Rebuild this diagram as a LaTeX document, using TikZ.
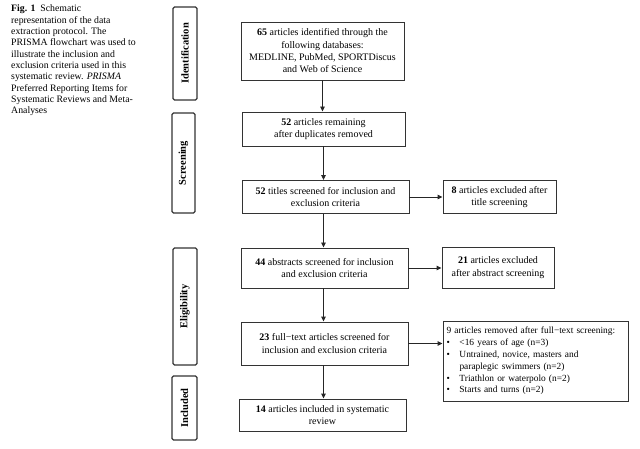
\documentclass[tikz,border=0pt]{standalone}
\usepackage{fontspec}
\setmainfont{Liberation Serif}
\usetikzlibrary{arrows.meta}
\begin{document}
\begin{tikzpicture}[x=1pt,y=-1pt,
  mainbox/.style={draw=black!80,line width=0.9pt,inner sep=0pt,align=center,
    font=\fontsize{10}{12.3}\selectfont},
  sidebox/.style={draw=black!80,line width=1.1pt,rounded corners=1.5pt,inner sep=0pt,
    rotate=90,font=\fontsize{10.5}{12}\selectfont\bfseries},
  arr/.style={draw=black!85,line width=0.9pt,-{Triangle[length=5pt,width=4.5pt]}}]
\useasboundingbox (0,0) rectangle (640,449);
% caption
\node[anchor=north west,align=left,inner sep=0pt,font=\fontsize{9.8}{11.3}\selectfont] (cap) at (11,5)
{\textbf{Fig. 1}\ \ Schematic\\
representation of the data\\
extraction protocol. The\\
PRISMA flowchart was used to\\
illustrate the inclusion and\\
exclusion criteria used in this\\
systematic review. \textit{PRISMA}\\
Preferred Reporting Items for\\
Systematic Reviews and Meta-\\
Analyses};
% side labels
\node[sidebox,minimum width=93pt,minimum height=24pt] (sid) at (185,53.5) {Identification};
\node[sidebox,minimum width=100pt,minimum height=23pt] (sscr) at (183.5,163) {Screening};
\node[sidebox,minimum width=117pt,minimum height=24pt] (selig) at (185,306.5) {Eligibility};
\node[sidebox,minimum width=64pt,minimum height=25pt] (sinc) at (184.5,408) {Included};
% main boxes
\node[mainbox,minimum width=163pt,minimum height=58pt] (b1) at (322.5,51)
{\textbf{65} articles identified through the\\following databases:\\MEDLINE, PubMed, SPORTDiscus\\and Web of Science};
\node[mainbox,minimum width=163pt,minimum height=34pt] (b2) at (323.5,129)
{\textbf{52} articles remaining\\after duplicates removed};
\node[mainbox,minimum width=167pt,minimum height=33pt] (b3) at (325.5,197)
{\textbf{52} titles screened for inclusion and\\exclusion criteria};
\node[mainbox,minimum width=167pt,minimum height=40pt] (b4) at (324.5,268)
{\textbf{44} abstracts screened for inclusion\\and exclusion criteria};
\node[mainbox,minimum width=167pt,minimum height=43pt] (b5) at (324.5,343.5)
{\textbf{23} full−text articles screened for\\inclusion and exclusion criteria};
\node[mainbox,minimum width=167pt,minimum height=32pt] (b6) at (322.5,415)
{\textbf{14} articles included in systematic\\review};
% exclusion boxes
\node[mainbox,minimum width=113pt,minimum height=33pt] (e1) at (499.5,197)
{\textbf{8} articles excluded after\\title screening};
\node[mainbox,minimum width=112pt,minimum height=41pt] (e2) at (498,267.5)
{\textbf{21} articles excluded\\after abstract screening};
\node[mainbox,minimum width=185pt,minimum height=80pt,text width=178pt,align=left,
  inner xsep=3.5pt,font=\fontsize{9.4}{11.8}\selectfont] (e3) at (535.5,361)
{9 articles removed after full−text screening:\\
\makebox[13pt][l]{•}<16 years of age (n=3)\\
\makebox[13pt][l]{•}Untrained, novice, masters and\\
\hspace*{13pt}paraplegic swimmers (n=2)\\
\makebox[13pt][l]{•}Triathlon or waterpolo (n=2)\\
\makebox[13pt][l]{•}Starts and turns (n=2)};
% arrows
\draw[arr] (b1.south) -- (b1.south |- b2.north);
\draw[arr] (b2.south) -- (b2.south |- b3.north);
\draw[arr] (b3.south -| b2.south) -- (b2.south |- b4.north);
\draw[arr] (b4.south -| b2.south) -- (b2.south |- b5.north);
\draw[arr] (b5.south -| b2.south) -- (b2.south |- b6.north);
\draw[arr] (b3.east) -- (e1.west);
\draw[arr] (b4.east) -- (b4.east -| e2.west);
\draw[arr] (b5.east) -- (b5.east -| e3.west);
\end{tikzpicture}
\end{document}
